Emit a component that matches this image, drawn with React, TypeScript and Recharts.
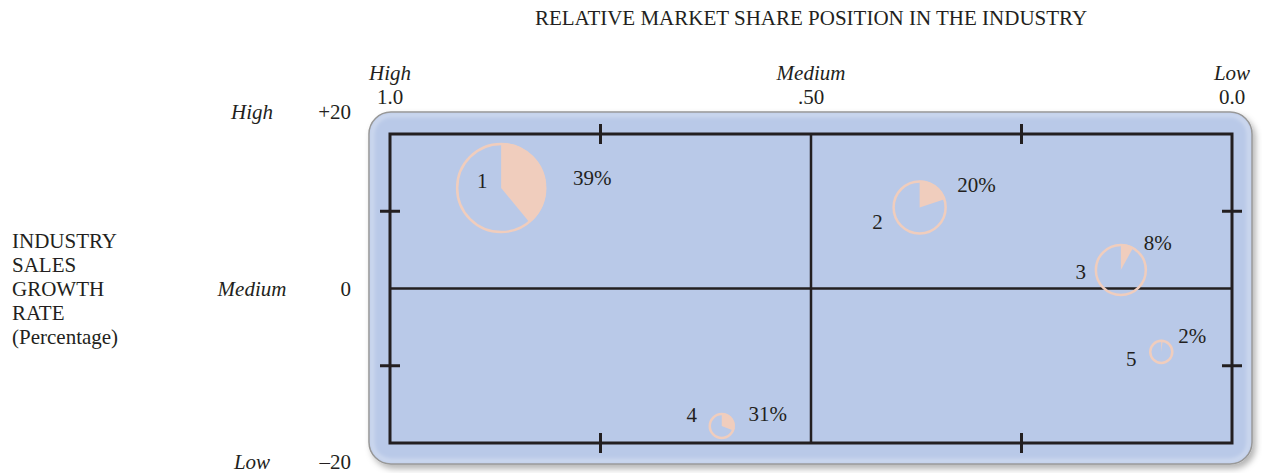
import React from 'react';
import {
  ScatterChart,
  Scatter,
  XAxis,
  YAxis,
  ZAxis,
  ReferenceArea,
  ReferenceLine,
} from 'recharts';

// ---------- data ----------
const divisions = ['1', '2', '3', '4', '5'];
const marketShare = [0.868, 0.371, 0.132, 0.606, 0.084]; // relative market share (1.0 = high)
const growthRate = [13.0, 10.5, 2.4, -17.8, -8.2]; // industry sales growth rate (%)
const revenue = [60, 21.6, 20, 5, 4.3]; // relative revenue (bubble area)
const profitShare = [39, 20, 8, 31, 2]; // % of profits (pie slice)

const xTicks = [1, 0.75, 0.5, 0.25, 0];
const xLevelLabels = ['High', '', 'Medium', '', 'Low'];
const xTickLabels = ['1.0', '', '.50', '', '0.0'];
const xBottomTicks = [0.75, 0.25];

const yTicks = [20, 10, 0, -10, -20];
const yLevelLabels = ['High', '', 'Medium', '', 'Low'];
const yTickLabels = ['+20', '', '0', '', '–20'];
const yRightTicks = [10, -10];

const title = 'RELATIVE MARKET SHARE POSITION IN THE INDUSTRY';
const yTitleLines = ['INDUSTRY', 'SALES', 'GROWTH', 'RATE', '(Percentage)'];

// ---------- style ----------
const FONT = '"Liberation Serif", "Times New Roman", serif';
const INK = '#231f20';
const BLUE = '#b9c9e8';
const PEACH = '#f0cdbd';
const FS = 21;

// label placement (pixel offsets from bubble centre) – style only
const labelOffsets = [
  { id: [-19, -7], pct: [91, -10] },
  { id: [-42, 15], pct: [57, -22] },
  { id: [-40, 2], pct: [37, -27] },
  { id: [-30, -11], pct: [46, -12] },
  { id: [-30, 7], pct: [31, -16] },
];

const data = divisions.map((d, i) => ({
  id: d,
  idx: i,
  x: marketShare[i],
  y: growthRate[i],
  z: revenue[i],
  share: profitShare[i],
}));

const Cross = ({ x, y, horizontal }: { x: number; y: number; horizontal?: boolean }) =>
  horizontal ? (
    <line x1={x - 10} x2={x + 10} y1={y} y2={y} stroke={INK} strokeWidth={3} />
  ) : (
    <line x1={x} x2={x} y1={y - 10} y2={y + 10} stroke={INK} strokeWidth={3} />
  );

const TopTick = (p: any) => {
  const i = xTicks.indexOf(p.payload.value);
  if (i < 0) return null;
  if (!xLevelLabels[i]) return <Cross x={p.x} y={p.y} />;
  return (
    <g fontFamily={FONT} fontSize={FS} fill={INK}>
      <text x={p.x} y={p.y - 61} textAnchor="middle" dominantBaseline="central" fontStyle="italic" fill={INK}>
        {xLevelLabels[i]}
      </text>
      <text x={p.x} y={p.y - 37} textAnchor="middle" dominantBaseline="central" fill={INK}>
        {xTickLabels[i]}
      </text>
    </g>
  );
};

const BottomTick = (p: any) => <Cross x={p.x} y={p.y} />;
const RightTick = (p: any) => <Cross x={p.x} y={p.y} horizontal />;

const LeftTick = (p: any) => {
  const v = p.payload.value;
  const i = yTicks.indexOf(v);
  if (i < 0) return null;
  if (!yLevelLabels[i]) return <Cross x={p.x} y={p.y} horizontal />;
  const dy = v === yTicks[0] ? -22 : v === yTicks[yTicks.length - 1] ? 19 : 0;
  return (
    <g fontFamily={FONT} fontSize={FS} fill={INK}>
      <text x={p.x - 138} y={p.y + dy} textAnchor="middle" dominantBaseline="central" fontStyle="italic" fill={INK}>
        {yLevelLabels[i]}
      </text>
      <text x={p.x - 39} y={p.y + dy} textAnchor="end" dominantBaseline="central" fill={INK}>
        {yTickLabels[i]}
      </text>
    </g>
  );
};

const Frame = (p: any) => {
  const { x, y, width, height } = p;
  return (
    <g>
      <defs>
        <filter id="frameShadow" x="-5%" y="-10%" width="110%" height="125%">
          <feDropShadow dx="3" dy="4" stdDeviation="3" floodColor="#000" floodOpacity="0.3" />
        </filter>
        <filter id="innerGlow" x="-5%" y="-10%" width="110%" height="120%">
          <feGaussianBlur stdDeviation="2" />
        </filter>
      </defs>
      <rect
        x={x - 21}
        y={y - 22}
        width={width + 41}
        height={height + 43}
        rx={22}
        ry={22}
        fill={BLUE}
        stroke="#8c8c8c"
        strokeWidth={1.5}
        filter="url(#frameShadow)"
      />
      <rect
        x={x - 18}
        y={y - 19}
        width={width + 35}
        height={height + 37}
        rx={19}
        ry={19}
        fill="none"
        stroke="#ffffff"
        strokeOpacity={0.45}
        strokeWidth={3}
        filter="url(#innerGlow)"
      />
      <rect x={x} y={y} width={width} height={height} fill="none" stroke={INK} strokeWidth={3} />
    </g>
  );
};

const PieBubble = (p: any) => {
  const { cx, cy, payload } = p;
  const r = p.width ? p.width / 2 : Math.sqrt((p.size || 0) / Math.PI);
  const frac = payload.share / 100;
  const a = frac * 2 * Math.PI;
  const ex = cx + r * Math.sin(a);
  const ey = cy - r * Math.cos(a);
  const large = frac > 0.5 ? 1 : 0;
  const d = `M${cx},${cy} L${cx},${cy - r} A${r},${r} 0 ${large} 1 ${ex},${ey} Z`;
  const off = labelOffsets[payload.idx];
  return (
    <g>
      <circle cx={cx} cy={cy} r={r - 1} fill="none" stroke={PEACH} strokeWidth={2.5} />
      <path d={d} fill={PEACH} />
      <text
        x={cx + off.id[0]}
        y={cy + off.id[1]}
        textAnchor="middle"
        dominantBaseline="central"
        fontFamily={FONT}
        fontSize={FS}
        fill={INK}
      >
        {payload.id}
      </text>
      <text
        x={cx + off.pct[0]}
        y={cy + off.pct[1]}
        textAnchor="middle"
        dominantBaseline="central"
        fontFamily={FONT}
        fontSize={FS}
        fill={INK}
      >
        {payload.share}%
      </text>
    </g>
  );
};

const TitleLabel = (p: any) => {
  const vb = p.viewBox || {};
  return (
    <text
      x={vb.x + vb.width / 2}
      y={18}
      textAnchor="middle"
      dominantBaseline="central"
      fontFamily={FONT}
      fontSize={FS}
      fill={INK}
    >
      {title}
    </text>
  );
};

const YTitleLabel = (p: any) => {
  const vb = p.viewBox || {};
  const cy = vb.y + vb.height / 2;
  return (
    <text fontFamily={FONT} fontSize={FS} fill={INK}>
      {yTitleLines.map((t, i) => (
        <tspan key={t} x={12} y={cy + (i - 2) * 24 + 7}>
          {t}
        </tspan>
      ))}
    </text>
  );
};

export default function App() {
  return (
    <div style={{ position: 'absolute', left: 0, top: 0, fontFamily: FONT }}>
      <ScatterChart width={1262} height={473} margin={{ top: 0, right: 0, bottom: 0, left: 0 }}>
        <ReferenceArea
          xAxisId="t"
          yAxisId="l"
          x1={1}
          x2={0}
          y1={-20}
          y2={20}
          shape={Frame}
          ifOverflow="visible"
        />
        <XAxis
          xAxisId="t"
          type="number"
          dataKey="x"
          domain={[0, 1]}
          reversed
          orientation="top"
          height={134}
          ticks={xTicks}
          interval={0}
          tick={TopTick}
          tickLine={false}
          axisLine={false}
          tickSize={0}
          tickMargin={0}
          allowDataOverflow
          label={{ content: TitleLabel } as any}
        />
        <XAxis
          xAxisId="b"
          type="number"
          dataKey="x"
          domain={[0, 1]}
          reversed
          orientation="bottom"
          height={30}
          ticks={xBottomTicks}
          interval={0}
          tick={BottomTick}
          tickLine={false}
          axisLine={false}
          tickSize={0}
          tickMargin={0}
          allowDataOverflow
        />
        <YAxis
          yAxisId="l"
          type="number"
          dataKey="y"
          domain={[-20, 20]}
          width={390}
          ticks={yTicks}
          interval={0}
          tick={LeftTick}
          tickLine={false}
          axisLine={false}
          tickSize={0}
          tickMargin={0}
          allowDataOverflow
          label={{ content: YTitleLabel } as any}
        />
        <YAxis
          yAxisId="r"
          orientation="right"
          type="number"
          dataKey="y"
          domain={[-20, 20]}
          width={30}
          ticks={yRightTicks}
          interval={0}
          tick={RightTick}
          tickLine={false}
          axisLine={false}
          tickSize={0}
          tickMargin={0}
          allowDataOverflow
        />
        <ZAxis dataKey="z" type="number" domain={[0, 60]} range={[0, 6362]} />
        <ReferenceLine xAxisId="t" yAxisId="l" x={0.5} stroke={INK} strokeWidth={2.5} />
        <ReferenceLine xAxisId="t" yAxisId="l" y={0} stroke={INK} strokeWidth={2.5} />
        <Scatter
          xAxisId="t"
          yAxisId="l"
          data={data}
          dataKey="y"
          shape={PieBubble}
          isAnimationActive={false}
        />
      </ScatterChart>
    </div>
  );
}
